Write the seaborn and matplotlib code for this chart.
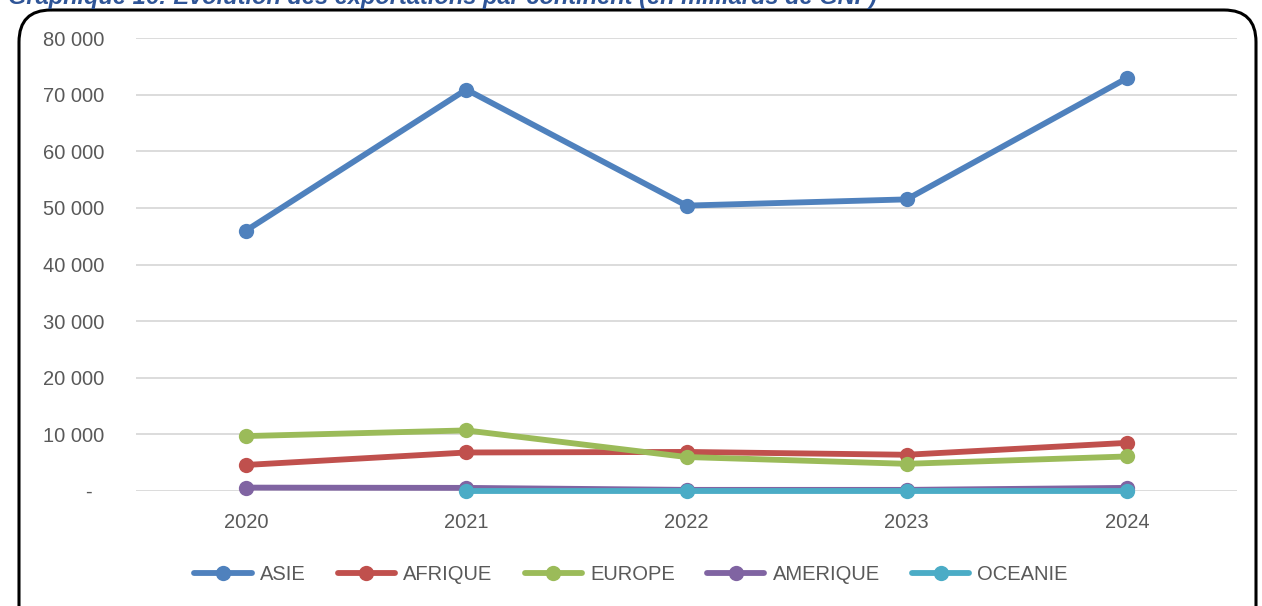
import matplotlib
matplotlib.use("Agg")
import matplotlib.pyplot as plt
from matplotlib.patches import FancyBboxPatch
from matplotlib.lines import Line2D
import numpy as np
import pandas as pd
import seaborn as sns

years = ["2020", "2021", "2022", "2023", "2024"]
asie = [46000, 70900, 50400, 51500, 72900]
afrique = [4600, 6800, 6900, 6400, 8500]
europe = [9700, 10700, 6000, 4800, 6100]
amerique = [600, 550, 200, 200, 550]
oceanie = [np.nan, 30, 30, 30, 30]

series = {"ASIE": asie, "AFRIQUE": afrique, "EUROPE": europe,
          "AMERIQUE": amerique, "OCEANIE": oceanie}
colors = ["#4F81BD", "#C0504D", "#9BBB59", "#8064A2", "#4BACC6"]
yticks = [0, 10000, 20000, 30000, 40000, 50000, 60000, 70000, 80000]
ytick_labels = ["-  ", "10 000", "20 000", "30 000", "40 000", "50 000",
                "60 000", "70 000", "80 000"]

sns.set_style("white")
plt.rcParams["font.family"] = ["Liberation Sans", "DejaVu Sans"]

rows = []
for name, vals in series.items():
    for i, v in enumerate(vals):
        rows.append({"continent": name, "x": i, "value": v})
df = pd.DataFrame(rows)

W, H = 1262, 606
fig = plt.figure(figsize=(W / 100, H / 100), dpi=100)

# background axes in pixel units, for the rounded frame
bg = fig.add_axes([0, 0, 1, 1])
bg.set_xlim(0, W)
bg.set_ylim(H, 0)
bg.axis("off")
frame = FancyBboxPatch((19, 10), 1237, 640, boxstyle="round,pad=0,rounding_size=32",
                       fill=False, edgecolor="black", linewidth=2.2)
bg.add_patch(frame)

ax = fig.add_axes([136 / W, 1 - 491 / H, 1101 / W, 453 / H])

for (name, _), col in zip(series.items(), colors):
    sub = df[df["continent"] == name].dropna()
    sns.lineplot(data=sub, x="x", y="value", ax=ax, color=col, linewidth=4.2,
                 marker="o", markersize=11, markeredgewidth=0,
                 clip_on=False, zorder=3)

ax.set_xlim(-0.5, 4.5)
ax.set_ylim(0, 80000)
ax.set_xticks(range(len(years)))
ax.set_xticklabels(years)
ax.set_yticks(yticks)
ax.set_yticklabels(ytick_labels)
ax.grid(axis="y", color="#D9D9D9", linewidth=1.3)
ax.set_axisbelow(True)
for s in ax.spines.values():
    s.set_visible(False)
ax.tick_params(axis="both", length=0, labelsize=14.5, colors="#595959")
ax.tick_params(axis="x", pad=16)
ax.tick_params(axis="y", pad=23)
ax.set_xlabel("")
ax.set_ylabel("")

handles = [Line2D([0], [0], color=c, linewidth=4.2, marker="o", markersize=11,
                  markeredgewidth=0) for c in colors]
fig.legend(handles, list(series.keys()), loc="center", bbox_to_anchor=(0.5, 1 - 575 / H),
           ncol=5, frameon=False, fontsize=14.5, handlelength=2.85, columnspacing=1.6,
           handletextpad=0.4, labelcolor="#595959")

fig.text(8 / W, 1 - 4 / H,
         "Graphique 16: Evolution des exportations par continent (en milliards de GNF)",
         fontsize=17, fontweight="bold", fontstyle="italic", color="#2F5597",
         ha="left", va="baseline")

fig.savefig("out.png", dpi=100)
